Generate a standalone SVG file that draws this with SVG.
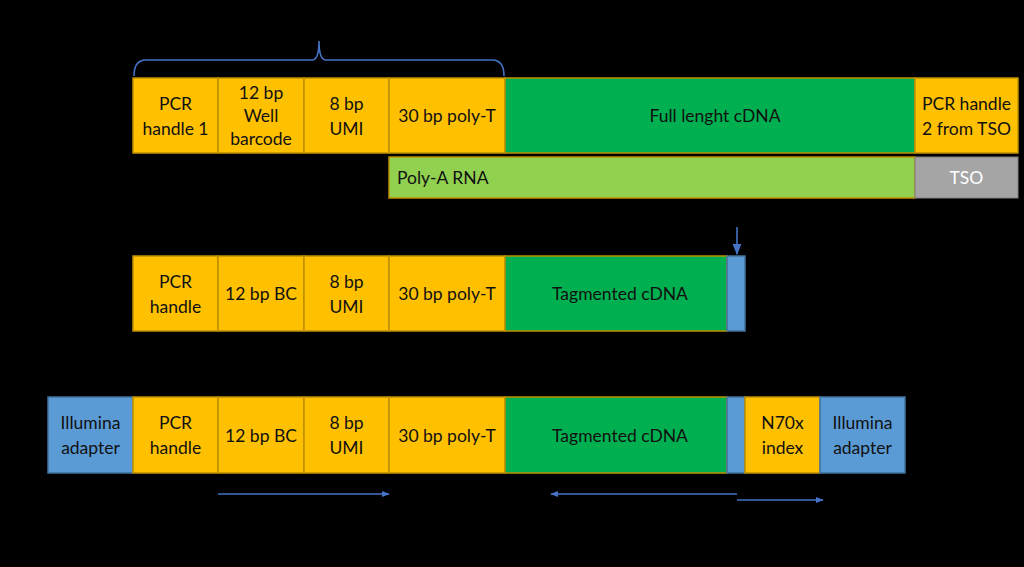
<svg xmlns="http://www.w3.org/2000/svg" width="1024" height="567" viewBox="0 0 1024 567">
<defs>
<style>
.bg{fill:#000}
.or{fill:#FFC000;stroke:#BF9000;stroke-width:1.5}
.gr{fill:#00B050;stroke:#BF9000;stroke-width:1.5}
.lg{fill:#92D050;stroke:#BF9000;stroke-width:1.5}
.bl{fill:#5B9BD5;stroke:#41719C;stroke-width:1.5}
.gy{fill:#A5A5A5;stroke:#7F7F7F;stroke-width:1}
text{font-family:Lato,"Open Sans","Liberation Sans",sans-serif;font-size:17.5px;fill:#111;text-anchor:middle}
.w{fill:#fff}
.ln{stroke:#4472C4;stroke-width:1.6;fill:none}
</style>
<marker id="ah" viewBox="0 0 10 10" refX="9" refY="5" markerWidth="8" markerHeight="8" orient="auto-start-reverse" markerUnits="userSpaceOnUse">
<path d="M0,1 L10,5 L0,9 z" fill="#4472C4"/>
</marker>
<marker id="ahb" viewBox="0 0 10 10" refX="9" refY="5" markerWidth="11" markerHeight="11" orient="auto" markerUnits="userSpaceOnUse">
<path d="M0,1 L10,5 L0,9 z" fill="#4472C4"/>
</marker>
</defs>
<rect class="bg" x="0" y="0" width="1024" height="567"/>

<g id="row1">
<g id="r1-pcr"><rect class="or" x="133" y="78" width="85" height="75"/><text x="175.5" y="110">PCR</text><text x="175.5" y="135">handle 1</text></g>
<g id="r1-bc"><rect class="or" x="218" y="78" width="86" height="75"/><text x="261" y="99">12 bp</text><text x="261" y="122">Well</text><text x="261" y="145">barcode</text></g>
<g id="r1-umi"><rect class="or" x="304" y="78" width="85" height="75"/><text x="346.5" y="110">8 bp</text><text x="346.5" y="135">UMI</text></g>
<g id="r1-polyt"><rect class="or" x="389" y="78" width="116" height="75"/><text x="447" y="122">30 bp poly-T</text></g>
<g id="r1-cdna"><rect class="gr" x="505" y="78" width="410" height="75"/><text x="715" y="122">Full lenght cDNA</text></g>
<g id="r1-pcr2"><rect class="or" x="915" y="78" width="103" height="75"/><text x="966.5" y="110">PCR handle</text><text x="966.5" y="135">2 from TSO</text></g>
</g>

<g id="row1b">
<g id="polya"><rect class="lg" x="389" y="157" width="526" height="41"/><text x="397" y="184" style="text-anchor:start">Poly-A RNA</text></g>
<g id="tso"><rect class="gy" x="915" y="157" width="103" height="41"/><text class="w" x="966.5" y="184">TSO</text></g>
</g>

<g id="row2">
<g id="r2-pcr"><rect class="or" x="133" y="256" width="85" height="75"/><text x="175.5" y="288">PCR</text><text x="175.5" y="313">handle</text></g>
<g id="r2-bc"><rect class="or" x="218" y="256" width="86" height="75"/><text x="261" y="300">12 bp BC</text></g>
<g id="r2-umi"><rect class="or" x="304" y="256" width="85" height="75"/><text x="346.5" y="288">8 bp</text><text x="346.5" y="313">UMI</text></g>
<g id="r2-polyt"><rect class="or" x="389" y="256" width="116" height="75"/><text x="447" y="300">30 bp poly-T</text></g>
<g id="r2-cdna"><rect class="gr" x="505" y="256" width="222" height="75"/><text x="620" y="300">Tagmented cDNA</text></g>
<g id="r2-tag"><rect class="bl" x="727" y="256" width="18" height="75"/></g>
</g>

<g id="row3">
<g id="r3-ill1"><rect class="bl" x="48" y="397" width="85" height="76"/><text x="90.5" y="429">Illumina</text><text x="90.5" y="454">adapter</text></g>
<g id="r3-pcr"><rect class="or" x="133" y="397" width="85" height="76"/><text x="175.5" y="429">PCR</text><text x="175.5" y="454">handle</text></g>
<g id="r3-bc"><rect class="or" x="218" y="397" width="86" height="76"/><text x="261" y="442">12 bp BC</text></g>
<g id="r3-umi"><rect class="or" x="304" y="397" width="85" height="76"/><text x="346.5" y="429">8 bp</text><text x="346.5" y="454">UMI</text></g>
<g id="r3-polyt"><rect class="or" x="389" y="397" width="116" height="76"/><text x="447" y="442">30 bp poly-T</text></g>
<g id="r3-cdna"><rect class="gr" x="505" y="397" width="222" height="76"/><text x="620" y="442">Tagmented cDNA</text></g>
<g id="r3-tag"><rect class="bl" x="727" y="397" width="18" height="76"/></g>
<g id="r3-n70"><rect class="or" x="745" y="397" width="75" height="76"/><text x="782.5" y="429">N70x</text><text x="782.5" y="454">index</text></g>
<g id="r3-ill2"><rect class="bl" x="820" y="397" width="85" height="76"/><text x="862.5" y="429">Illumina</text><text x="862.5" y="454">adapter</text></g>
</g>

<g id="connectors">
<path id="brace" class="ln" d="M134,76 Q134,60 146,60 L312,60 Q319,60 319,41 Q319,60 326,60 L492,60 Q504,60 504,76"/>
<line class="ln" x1="737" y1="227" x2="737" y2="254" stroke-width="2.5" marker-end="url(#ahb)"/>
<line class="ln" x1="218" y1="494" x2="389" y2="494" marker-end="url(#ah)"/>
<line class="ln" x1="737" y1="494" x2="551" y2="494" marker-end="url(#ah)"/>
<line class="ln" x1="737" y1="500" x2="823" y2="500" marker-end="url(#ah)"/>
</g>
</svg>
